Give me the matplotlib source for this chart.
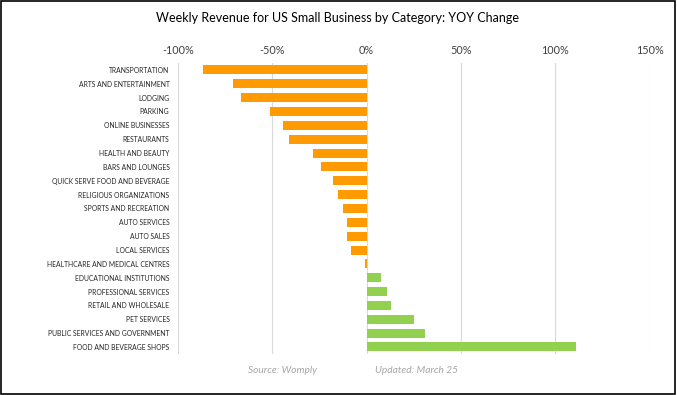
import matplotlib
matplotlib.use("Agg")
import matplotlib.pyplot as plt
from matplotlib.ticker import FuncFormatter
from matplotlib.patches import Rectangle

categories = [
    "TRANSPORTATION", "ARTS AND ENTERTAINMENT", "LODGING", "PARKING",
    "ONLINE BUSINESSES", "RESTAURANTS", "HEALTH AND BEAUTY", "BARS AND LOUNGES",
    "QUICK SERVE FOOD AND BEVERAGE", "RELIGIOUS ORGANIZATIONS", "SPORTS AND RECREATION",
    "AUTO SERVICES", "AUTO SALES", "LOCAL SERVICES", "HEALTHCARE AND MEDICAL CENTRES",
    "EDUCATIONAL INSTITUTIONS", "PROFESSIONAL SERVICES", "RETAIL AND WHOLESALE",
    "PET SERVICES", "PUBLIC SERVICES AND GOVERNMENT", "FOOD AND BEVERAGE SHOPS",
]
yoy_change = [
    -0.868, -0.706, -0.667, -0.509, -0.44, -0.408, -0.286, -0.239,
    -0.179, -0.149, -0.127, -0.106, -0.106, -0.08, -0.007,
    0.078, 0.11, 0.13, 0.252, 0.31, 1.11,
]
tick_values = [-1.0, -0.5, 0.0, 0.5, 1.0, 1.5]

plt.rcParams['font.family'] = ['Lato', 'DejaVu Sans']

fig = plt.figure(figsize=(6.77, 3.95), dpi=100)
ax = fig.add_axes([0.2625, 0.104, 0.6972, 0.7365])

orange = "#FF9A00"
green = "#92D050"
colors = [orange if v < 0 else green for v in yoy_change]
ypos = list(range(len(categories)))
ax.barh(ypos, yoy_change, height=0.65, color=colors, zorder=3)

ax.set_xlim(-1.0, 1.5)
ax.set_ylim(len(categories) - 0.5, -0.5)
ax.set_xticks(tick_values)
ax.xaxis.set_major_formatter(FuncFormatter(lambda v, p: f"{v*100:.0f}%"))
ax.xaxis.tick_top()
ax.tick_params(axis='x', length=0, pad=5, labelsize=7.8, labelcolor="#404040")
ax.set_yticks(ypos)
ax.set_yticklabels(categories)
ax.tick_params(axis='y', length=0, pad=6, labelsize=4.9, labelcolor="#262626")
ax.grid(axis='x', color="#D9D9D9", linewidth=0.8, zorder=0)
for s in ax.spines.values():
    s.set_visible(False)

fig.text(0.499, 0.955, "Weekly Revenue for US Small Business by Category: YOY Change",
         ha='center', va='center', fontsize=9.0, color="#000000")
fig.text(0.418, 0.062, "Source: Womply", ha='center', va='center', fontsize=7.3,
         style='italic', color="#A6A6A6")
fig.text(0.615, 0.062, "Updated: March 25", ha='center', va='center', fontsize=7.3,
         style='italic', color="#A6A6A6")

fig.patches.append(Rectangle((0.002, 0.003), 0.995, 0.994, transform=fig.transFigure,
                             fill=False, edgecolor="black", linewidth=1.2))

fig.savefig("out.png", dpi=100)
